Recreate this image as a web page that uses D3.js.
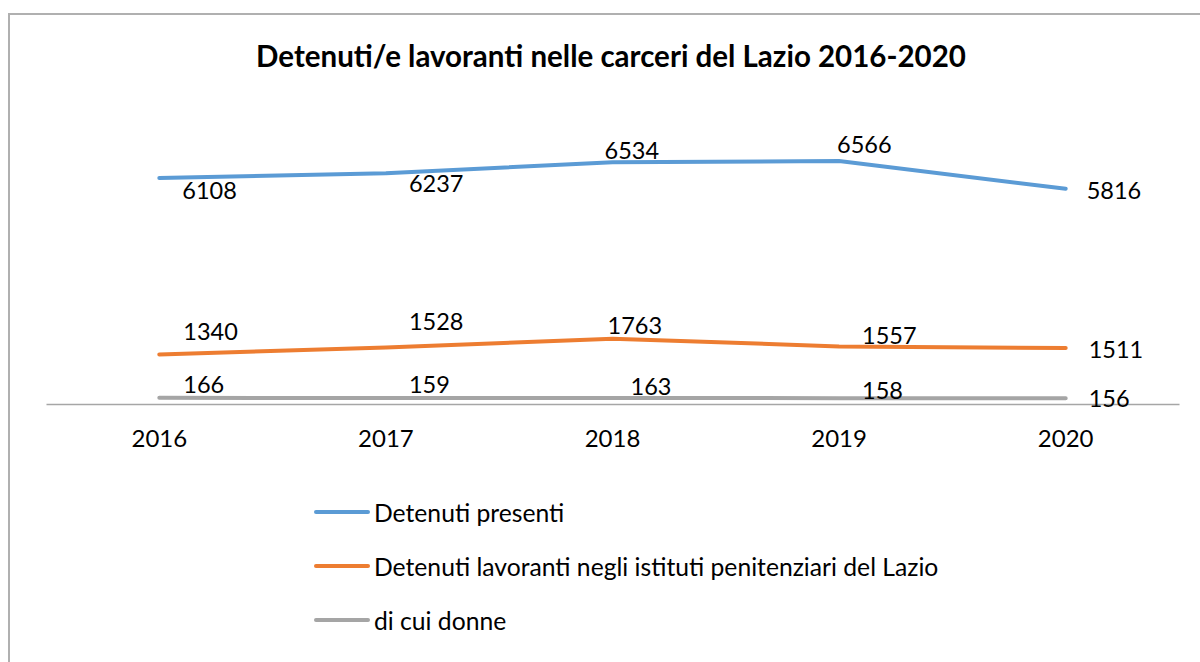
<!DOCTYPE html>
<html>
<head>
<meta charset="utf-8">
<script src="https://cdn.jsdelivr.net/npm/d3@7"></script>
<style>
  html, body { margin: 0; background: #fff; overflow: hidden; }
  svg { display: block; font-family: Lato, "Liberation Sans", sans-serif; }
</style>
</head>
<body>
<div id="chart"></div>
<script>
var years = ["2016", "2017", "2018", "2019", "2020"];
var presenti = [6108, 6237, 6534, 6566, 5816];
var lavoranti = [1340, 1528, 1763, 1557, 1511];
var donne = [166, 159, 163, 158, 156];
var seriesNames = ["Detenuti presenti", "Detenuti lavoranti negli istituti penitenziari del Lazio", "di cui donne"];
var colors = ["#5b9bd5", "#ed7d31", "#a5a5a5"];
// label nudges (Excel placed them by hand)
var labelDx = [[23, 23, -8, -2, 21], [24, 23, -5, 23, 23], [24, 23, 18, 23, 23]];
var labelDy = [[12, 10, -12, -17, 1], [-23, -26, -14, -11, 1], [-14, -14, -12, -8, 0]];

var width = 1200, height = 662;
var svg = d3.select("#chart").append("svg")
  .attr("width", width)
  .attr("height", height);

svg.append("rect")
  .attr("x", 9).attr("y", 14)
  .attr("width", 1250).attr("height", 700)
  .attr("fill", "none")
  .attr("stroke", "#b0b0b0")
  .attr("stroke-width", 2);

svg.append("text")
  .attr("x", 611).attr("y", 55)
  .attr("text-anchor", "middle")
  .attr("dominant-baseline", "central")
  .style("font-weight", "bold")
  .style("font-size", "29.5px")
  .text("Detenuti/e lavoranti nelle carceri del Lazio 2016-2020");

var x = d3.scaleBand().domain(years).range([46, 1179]);
var y = d3.scaleLinear().domain([0, 8000]).range([404, 108]);

var xAxis = svg.append("g")
  .attr("transform", "translate(0," + y(0) + ")")
  .call(d3.axisBottom(x).tickSize(0).tickPadding(26));
xAxis.select(".domain").attr("stroke", "#a6a6a6").attr("stroke-width", 1.5);
xAxis.selectAll("text")
  .style("font-size", "24px")
  .style("font-family", "Lato, sans-serif")
  .attr("fill", "#000");

var allSeries = [presenti, lavoranti, donne];
var line = d3.line()
  .x(function(d, i) { return x(years[i]) + x.bandwidth() / 2; })
  .y(function(d) { return y(d); });

allSeries.forEach(function(vals, s) {
  svg.append("path")
    .datum(vals)
    .attr("d", line)
    .attr("fill", "none")
    .attr("stroke", colors[s])
    .attr("stroke-width", 4)
    .attr("stroke-linecap", "round");
});

allSeries.forEach(function(vals, s) {
  svg.append("g").selectAll("text")
    .data(vals)
    .enter().append("text")
      .attr("x", function(d, i) { return x(years[i]) + x.bandwidth() / 2 + labelDx[s][i]; })
      .attr("y", function(d, i) { return y(d) + labelDy[s][i]; })
      .attr("dominant-baseline", "central")
      .style("font-size", "23.5px")
      .text(function(d) { return d; });
});

var legend = svg.append("g").selectAll("g")
  .data(seriesNames)
  .enter().append("g")
    .attr("transform", function(d, i) { return "translate(316," + (512 + i * 54) + ")"; });
legend.append("line")
  .attr("x1", 0).attr("x2", 52)
  .attr("stroke", function(d, i) { return colors[i]; })
  .attr("stroke-width", 4)
  .attr("stroke-linecap", "round");
legend.append("text")
  .attr("x", 58)
  .attr("dominant-baseline", "central")
  .style("font-size", "24.7px")
  .text(function(d) { return d; });
</script>
</body>
</html>
